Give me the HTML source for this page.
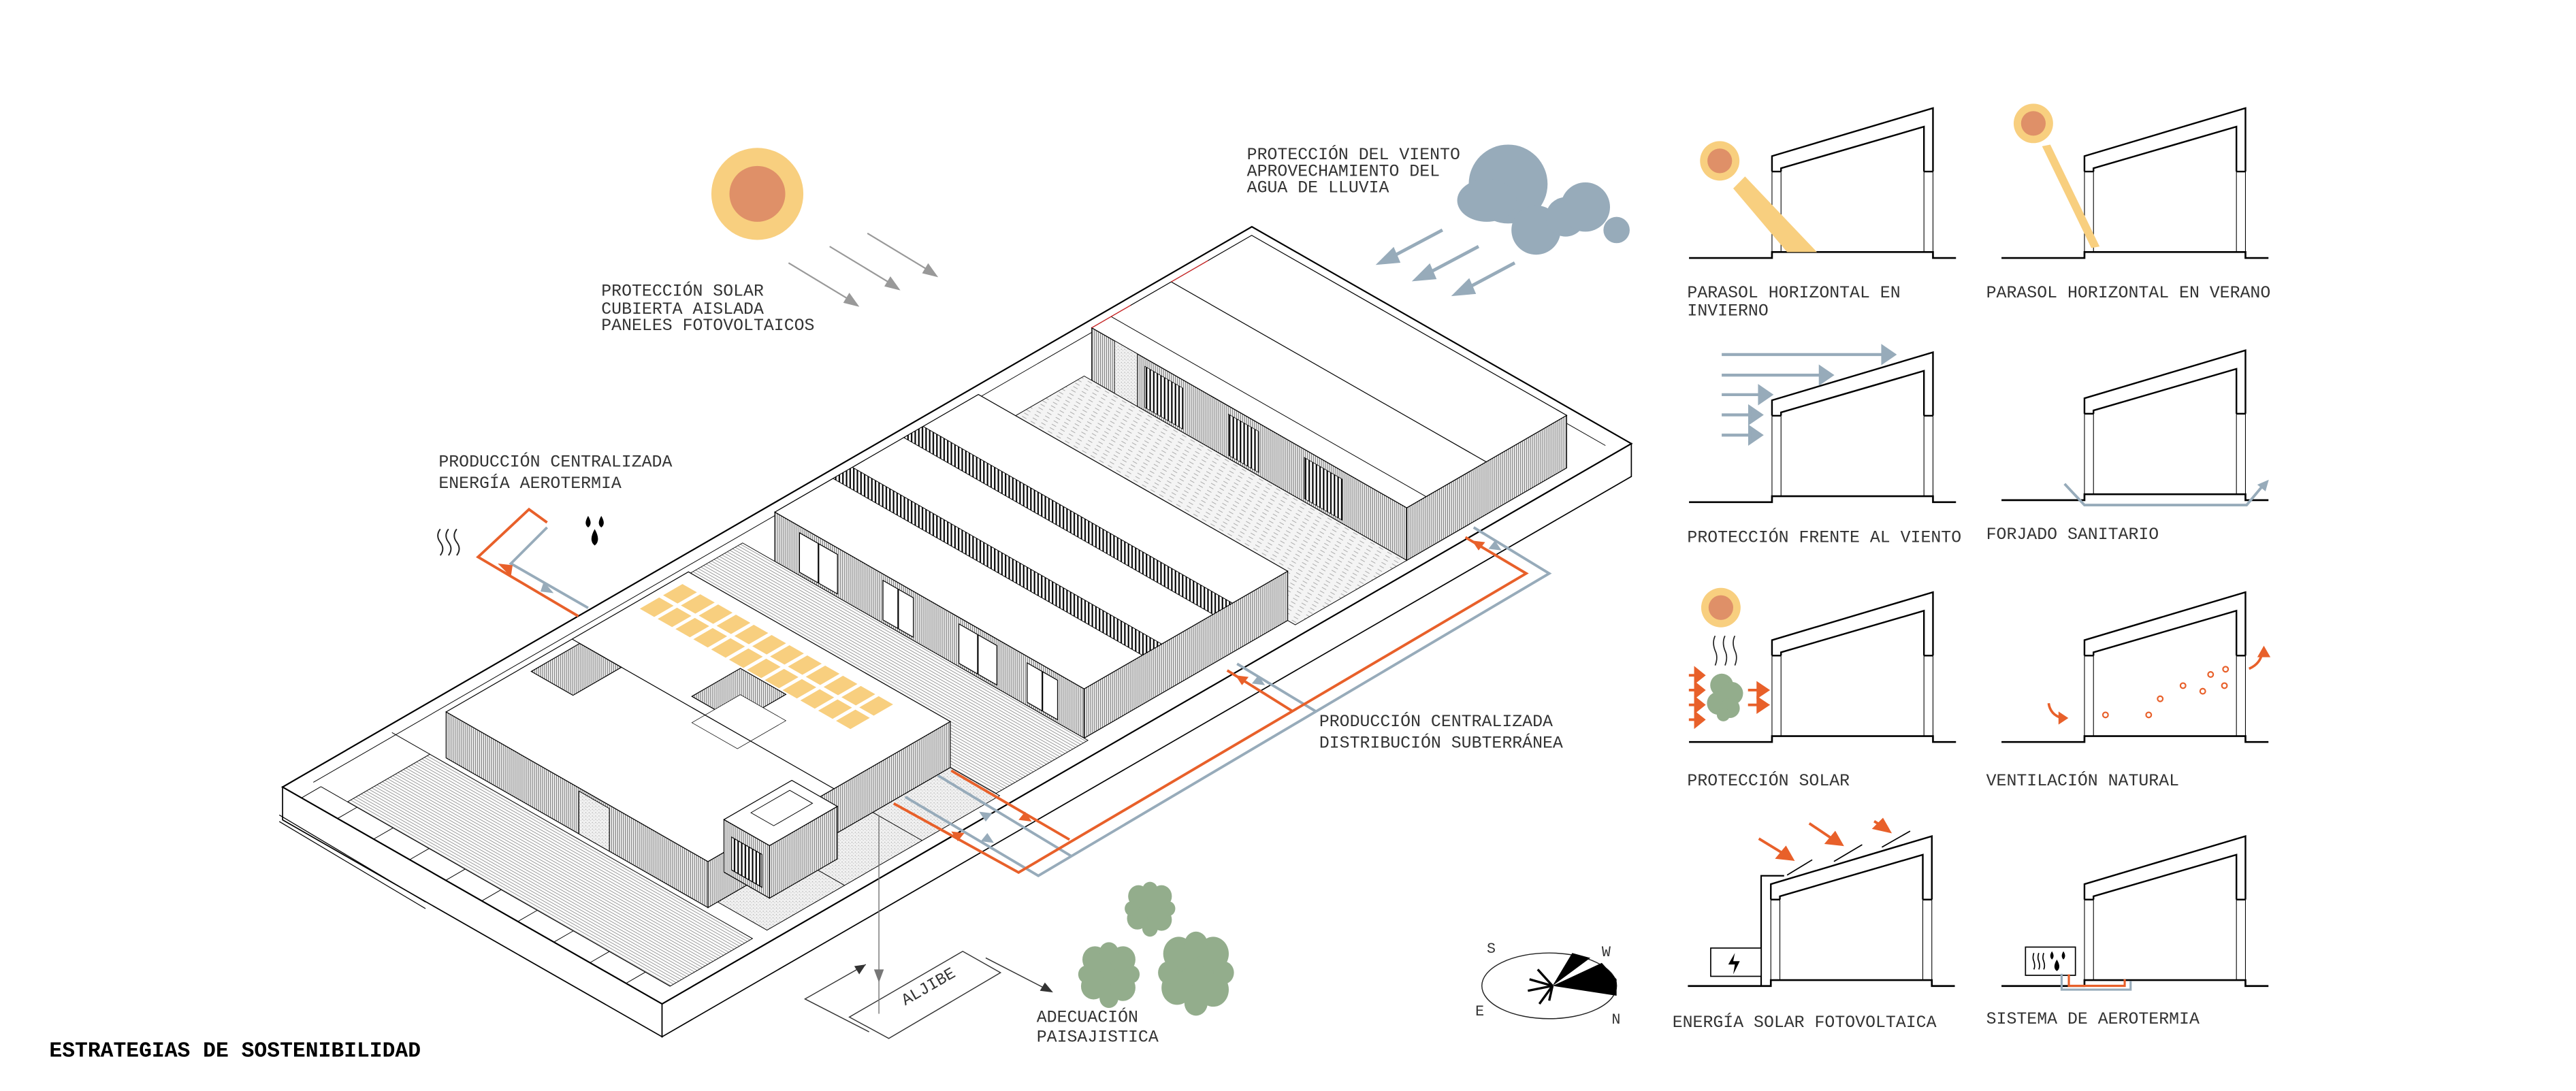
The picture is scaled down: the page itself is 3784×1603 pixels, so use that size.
<!DOCTYPE html>
<html><head><meta charset="utf-8"><style>
html,body{margin:0;padding:0;background:#fff;}
svg{display:block;}
text{font-family:"Liberation Mono","DejaVu Sans Mono",monospace;fill:#333;font-size:10.3px;}
</style></head><body>
<svg id="root" width="3784" height="1603" viewBox="0 0 1568 664" preserveAspectRatio="none" xmlns="http://www.w3.org/2000/svg">
<defs>
<pattern id="wall" patternUnits="userSpaceOnUse" width="1.2" height="10"><rect width="1.2" height="10" fill="#fff"/><line x1="0.3" y1="0" x2="0.3" y2="10" stroke="#666" stroke-width="0.45"/></pattern>
<pattern id="win" patternUnits="userSpaceOnUse" width="2.2" height="10"><rect width="2.2" height="10" fill="#fff"/><line x1="0.5" y1="0" x2="0.5" y2="10" stroke="#000" stroke-width="0.9"/></pattern>
<pattern id="deck" patternUnits="userSpaceOnUse" width="10" height="1.6" patternTransform="rotate(29.7)"><rect width="10" height="1.6" fill="#fff"/><line x1="0" y1="0.4" x2="10" y2="0.4" stroke="#999" stroke-width="0.4"/></pattern>
<pattern id="deck2" patternUnits="userSpaceOnUse" width="6" height="2.4" patternTransform="rotate(29.7)"><rect width="6" height="2.4" fill="#f4f4f4"/><line x1="0" y1="0.6" x2="3" y2="0.6" stroke="#aaa" stroke-width="0.4"/></pattern>
<pattern id="grav" patternUnits="userSpaceOnUse" width="2" height="2"><rect width="2" height="2" fill="#f1f1f1"/><circle cx="0.6" cy="0.6" r="0.3" fill="#aaa"/><circle cx="1.5" cy="1.4" r="0.25" fill="#bbb"/></pattern>
</defs>
<g id="axo"></g>

<circle cx="461" cy="118" r="28" fill="#f8cf7f"/>
<circle cx="461" cy="118" r="17" fill="#df9068"/>
<g stroke="#999" stroke-width="0.9" fill="#999">
<line x1="480" y1="160" x2="518" y2="183"/><polygon points="522,186 514,184 517,179"/>
<line x1="505" y1="150" x2="543" y2="173"/><polygon points="547,176 539,174 542,169"/>
<line x1="528" y1="142" x2="566" y2="165"/><polygon points="570,168 562,166 565,161"/>
</g>
<g fill="#97abba">
<circle cx="918" cy="112" r="24"/><ellipse cx="905" cy="122" rx="18" ry="13"/><circle cx="935" cy="140" r="15"/>
<circle cx="953" cy="132" r="12"/><circle cx="965" cy="126" r="15"/><circle cx="984" cy="140" r="8"/>
</g>
<g stroke="#97abba" stroke-width="2" fill="#97abba">
<line x1="878" y1="140" x2="846" y2="157"/><polygon points="840,160 848,152 851,159"/>
<line x1="900" y1="150" x2="868" y2="167"/><polygon points="862,170 870,162 873,169"/>
<line x1="922" y1="160" x2="892" y2="176"/><polygon points="886,179 894,171 897,178"/>
</g>

<text x="366" y="180">PROTECCIÓN SOLAR</text>
<text x="366" y="191">CUBIERTA AISLADA</text>
<text x="366" y="201">PANELES FOTOVOLTAICOS</text>
<text x="759" y="97">PROTECCIÓN DEL VIENTO</text>
<text x="759" y="107">APROVECHAMIENTO DEL</text>
<text x="759" y="117">AGUA DE LLUVIA</text>
<text x="267" y="284">PRODUCCIÓN CENTRALIZADA</text>
<text x="267" y="297">ENERGÍA AEROTERMIA</text>
<text x="803" y="442">PRODUCCIÓN CENTRALIZADA</text>
<text x="803" y="455">DISTRIBUCIÓN SUBTERRÁNEA</text>
<text x="631" y="622">ADECUACIÓN</text>
<text x="631" y="634">PAISAJISTICA</text>
<text x="30" y="643" style="font-weight:bold;font-size:13px;fill:#000">ESTRATEGIAS DE SOSTENIBILIDAD</text>

<g fill="none" stroke="#222" stroke-width="0.8">
<path d="M268,322 q-3,4 0,8 q3,4 0,8"/><path d="M273,322 q-3,4 0,8 q3,4 0,8"/><path d="M278,322 q-3,4 0,8 q3,4 0,8"/>
</g>
<g fill="#000">
<path d="M358,314 q-3,5 0,7 q3,-2 0,-7z"/><path d="M366,314 q-3,5 0,7 q3,-2 0,-7z"/><path d="M362,322 q-4,7 0,10 q4,-3 0,-10z"/>
</g>
<polyline points="352,375 291,339 322,310 333,318" fill="none" stroke="#e8602a" stroke-width="1.6"/>
<polyline points="358,370 311,343 333,321" fill="none" stroke="#97abba" stroke-width="1.6"/>
<polygon points="311,351 303,343 312,344" fill="#e8602a"/>
<polygon points="331,354 337,361 329,360" fill="#97abba"/>

<g fill="none" stroke-width="1.6">
<polyline points="897,321 943,349 632,533 551,485" stroke="#97abba"/>
<line x1="753" y1="404" x2="801" y2="433" stroke="#97abba"/>
<line x1="571" y1="472" x2="652" y2="521" stroke="#97abba"/>
<polyline points="892,327 929,349 620,531 544,489" stroke="#e8602a"/>
<line x1="747" y1="408" x2="787" y2="433" stroke="#e8602a"/>
<line x1="579" y1="469" x2="651" y2="511" stroke="#e8602a"/>
</g>
<g>
<polygon points="896,329 904,330 900,335" fill="#e8602a"/>
<polygon points="914,335 906,334 910,329" fill="#97abba"/>
<polygon points="752,411 760,412 756,417" fill="#e8602a"/>
<polygon points="770,417 762,416 766,411" fill="#97abba"/>
<polygon points="628,500 620,499 624,494" fill="#e8602a"/>
<polygon points="596,494 604,495 600,500" fill="#97abba"/>
<polygon points="579,506 587,507 583,512" fill="#e8602a"/>
<polygon points="605,513 597,512 601,507" fill="#97abba"/>
</g>

<g stroke="#333" stroke-width="0.6" fill="none">
<path d="M527,587 L490,608 L529,628"/>
<polygon points="517,619 586,579 609,592 541,632" fill="#fff"/>
<line x1="600" y1="583" x2="637" y2="602"/>
<line x1="535" y1="496" x2="535" y2="617" stroke="#777"/>
</g>
<polygon points="527,587 520,588 523,593" fill="#333"/>
<polygon points="641,604 633,603 636,598" fill="#333"/>
<polygon points="532,590 538,590 535,598" fill="#777"/>
<text x="0" y="0" transform="translate(551,612) rotate(-30)" style="font-size:10px">ALJIBE</text>

<g fill="#93ad8c" id="trees"></g>

<ellipse cx="943" cy="600" rx="41" ry="20" fill="none" stroke="#222" stroke-width="0.6"/>
<polygon points="945,600 957,580 968,583" fill="#000"/>
<polygon points="945,600 975,586 984,596 984,606" fill="#000"/>
<g stroke="#000" stroke-width="1.4">
<line x1="945" y1="600" x2="931" y2="596"/><line x1="945" y1="600" x2="930" y2="603"/>
<line x1="945" y1="600" x2="937" y2="611"/><line x1="945" y1="600" x2="943" y2="609"/>
<line x1="945" y1="600" x2="936" y2="590"/>
</g>
<text x="905" y="580" style="font-size:9px">S</text>
<text x="975" y="582" style="font-size:9px">W</text>
<text x="898" y="618" style="font-size:9px">E</text>
<text x="981" y="623" style="font-size:9px">N</text>

<g id="secs"></g>
<polygon points="1055,114.7 1062.2,107.4 1106,153.4 1087.8,153.4" fill="#f8cf7f"/>
<circle cx="1046.8" cy="97.9" r="12" fill="#f8cf7f"/><circle cx="1046.8" cy="97.9" r="7.5" fill="#df9068"/>
<polygon points="1243,89 1248,88 1278,150 1273,151" fill="#f8cf7f"/>
<circle cx="1237.7" cy="75.1" r="12" fill="#f8cf7f"/><circle cx="1237.7" cy="75.1" r="7.5" fill="#df9068"/>
<g stroke="#97abba" stroke-width="1.8" fill="#97abba">
<line x1="1048" y1="215.8" x2="1148" y2="215.8"/><polygon points="1153,215.8 1146,211 1146,220.6"/>
<line x1="1048" y1="228.3" x2="1110" y2="228.3"/><polygon points="1115,228.3 1108,223.5 1108,233.1"/>
<line x1="1048" y1="240.2" x2="1073" y2="240.2"/><polygon points="1078,240.2 1071,235.4 1071,245"/>
<line x1="1048" y1="252.5" x2="1067" y2="252.5"/><polygon points="1072,252.5 1065,247.7 1065,257.3"/>
<line x1="1048" y1="264.8" x2="1067" y2="264.8"/><polygon points="1072,264.8 1065,260 1065,269.6"/>
</g>
<polyline points="1256.7,294.5 1268.8,307.4 1367.5,307.4 1377,296" fill="none" stroke="#97abba" stroke-width="1.6"/>
<polygon points="1381,292 1374,295 1379,299" fill="#97abba"/>
<circle cx="1047.5" cy="369.8" r="12" fill="#f8cf7f"/><circle cx="1047.5" cy="369.8" r="7.5" fill="#df9068"/>
<g fill="none" stroke="#222" stroke-width="0.7">
<path d="M1044,387 q-2,4 0,9 q2,4 0,9"/><path d="M1050,387 q-2,4 0,9 q2,4 0,9"/><path d="M1056,387 q-2,4 0,9 q2,4 0,9"/>
</g>
<g fill="#93ad8c"><circle cx="1048" cy="417" r="7"/><circle cx="1054" cy="422" r="7"/><circle cx="1046" cy="428" r="7"/><circle cx="1053" cy="431" r="6"/><circle cx="1049" cy="435" r="4"/></g>
<g stroke="#e8602a" stroke-width="1.6" fill="#e8602a">
<line x1="1028" y1="411" x2="1033" y2="411"/><polygon points="1037,411 1032,407 1032,415"/>
<line x1="1028" y1="420" x2="1033" y2="420"/><polygon points="1037,420 1032,416 1032,424"/>
<line x1="1028" y1="429" x2="1033" y2="429"/><polygon points="1037,429 1032,425 1032,433"/>
<line x1="1028" y1="438" x2="1033" y2="438"/><polygon points="1037,438 1032,434 1032,442"/>
<line x1="1064" y1="420" x2="1071" y2="420"/><polygon points="1076,420 1070,416 1070,424"/>
<line x1="1064" y1="429" x2="1071" y2="429"/><polygon points="1076,429 1070,425 1070,433"/>
</g>
<g fill="none" stroke="#e8602a" stroke-width="0.9">
<circle cx="1281.6" cy="435.1" r="1.6"/><circle cx="1307.9" cy="435.1" r="1.6"/><circle cx="1314.9" cy="425.3" r="1.6"/><circle cx="1328.8" cy="417.3" r="1.6"/><circle cx="1340.8" cy="420.7" r="1.6"/><circle cx="1345.6" cy="410.5" r="1.6"/><circle cx="1354" cy="417.3" r="1.6"/><circle cx="1354.7" cy="407.3" r="1.6"/>
</g>
<path d="M1247,428 q1,7 8,9" fill="none" stroke="#e8602a" stroke-width="1.5"/><polygon points="1259,437 1253,433 1253,441" fill="#e8602a"/>
<path d="M1369,407 q7,-3 8,-10" fill="none" stroke="#e8602a" stroke-width="1.5"/><polygon points="1378,393 1374,400 1382,400" fill="#e8602a"/>
<g stroke="#000" stroke-width="0.7">
<line x1="1087.8" y1="532.6" x2="1103.1" y2="523.3"/><line x1="1116.3" y1="524.3" x2="1133.5" y2="514.1"/><line x1="1145.5" y1="515.6" x2="1162.7" y2="505.8"/>
</g>
<g stroke="#e8602a" stroke-width="1.6" fill="#e8602a">
<line x1="1070.6" y1="510.4" x2="1086" y2="519.8"/><polygon points="1091,523 1082,522 1087,516"/>
<line x1="1101.3" y1="501.1" x2="1116" y2="511"/><polygon points="1121,514 1112,513 1117,507"/>
<line x1="1140.8" y1="499.8" x2="1146" y2="503"/><polygon points="1150,506 1141,504 1146,499"/>
</g>
<rect x="1041.3" y="577" width="30.7" height="17.2" fill="#fff" stroke="#000" stroke-width="0.7"/>
<polygon points="1056,580 1052,587 1056,587 1055,593 1059,585 1055,585" fill="#000"/>
<rect x="1232.9" y="576.4" width="30.4" height="17.2" fill="#fff" stroke="#000" stroke-width="0.7"/>
<g fill="none" stroke="#000" stroke-width="0.7"><path d="M1238,580 q-1,3 0,5 q1,3 0,5"/><path d="M1241,580 q-1,3 0,5 q1,3 0,5"/><path d="M1244,580 q-1,3 0,5 q1,3 0,5"/></g>
<g fill="#000"><path d="M1249,579 q-2,3 0,5 q2,-2 0,-5z"/><path d="M1256,579 q-2,3 0,5 q2,-2 0,-5z"/><path d="M1252,584 q-3,5 0,7 q3,-2 0,-7z"/></g>
<polyline points="1254.9,592.7 1254.9,602.3 1296.9,602.3 1296.9,597" fill="none" stroke="#97abba" stroke-width="1.3"/>
<polyline points="1259.3,593 1259.3,600 1293.3,600 1293.3,596" fill="none" stroke="#e8602a" stroke-width="1.3"/>

<text x="1027" y="181">PARASOL HORIZONTAL EN</text>
<text x="1027" y="192">INVIERNO</text>
<text x="1209" y="181">PARASOL HORIZONTAL EN VERANO</text>
<text x="1027" y="330">PROTECCIÓN FRENTE AL VIENTO</text>
<text x="1209" y="328">FORJADO SANITARIO</text>
<text x="1027" y="478">PROTECCIÓN SOLAR</text>
<text x="1209" y="478">VENTILACIÓN NATURAL</text>
<text x="1018" y="625">ENERGÍA SOLAR FOTOVOLTAICA</text>
<text x="1209" y="623">SISTEMA DE AEROTERMIA</text>

<script>
(function(){
var NS='http://www.w3.org/2000/svg';
var g=document.getElementById('axo');
function el(par,tag,at){var e=document.createElementNS(NS,tag);for(var k in at)e.setAttribute(k,at[k]);par.appendChild(e);return e;}
function P(a,b,h){h=h||0;return [172+590*a+231*b,479-341*a+132*b-h];}
function pts(arr){return arr.map(function(p){return p[0].toFixed(2)+','+p[1].toFixed(2);}).join(' ');}
function pg(arr,fill,sw,stroke){return el(g,'polygon',{points:pts(arr),fill:fill,stroke:stroke||'#000','stroke-width':sw==null?0.5:sw});}
function ln(p,q,sw,c){return el(g,'line',{x1:p[0],y1:p[1],x2:q[0],y2:q[1],stroke:c||'#000','stroke-width':sw||0.5});}
function quad(a0,a1,b0,b1,h,fill,sw){return pg([P(a0,b0,h),P(a1,b0,h),P(a1,b1,h),P(a0,b1,h)],fill,sw);}
function fA(a,b0,b1,h0,h1,fill,sw){return pg([P(a,b0,h0),P(a,b1,h0),P(a,b1,h1),P(a,b0,h1)],fill,sw);}
function fB(b,a0,a1,h0,h1,fill,sw){return pg([P(a0,b,h0),P(a1,b,h0),P(a1,b,h1),P(a0,b,h1)],fill,sw);}
function box(a0,a1,b0,b1,h,wall,top){fA(a0,b0,b1,0,h,wall);fB(b1,a0,a1,0,h,wall);quad(a0,a1,b0,b1,h,top||'#fff');}

pg([P(0,0,0),P(0,1,0),P(0,1,-20),P(0,0,-20)],'#fff',0.7);
pg([P(0,1,0),P(1,1,0),P(1,1,-20),P(0,1,-20)],'#fff',0.7);
quad(0,1,0,1,0,'#fff',0.9);
ln([170,496],[259,549],0.5);ln([170,500],[259,553],0.5);
ln(P(0.02,0.03,0),P(0.985,0.03,0),0.4);ln(P(0.985,0.03,0),P(0.985,0.97,0),0.4);

// Building A
box(0.78,0.945,0.14,0.97,32,'url(#wall)');
ln(P(0.862,0.14,32),P(0.862,0.97,32),0.5);
ln(P(0.80,0.14,32),P(0.80,0.97,32),0.4);
[[0.28,0.38],[0.50,0.58],[0.70,0.80]].forEach(function(r){fA(0.78,r[0],r[1],2,27,'url(#win)',0.3);});
fA(0.78,0.2,0.26,0,32,'url(#grav)',0.3);
ln(P(0.78,0.14,32),P(0.82,0.14,32),0.5,'#d22');ln(P(0.862,0.14,32),P(0.9,0.14,32),0.5,'#d22');
// deck A-B
quad(0.665,0.78,0.12,0.97,0,'url(#deck2)',0.4);
// Building B: three bars
box(0.455,0.665,0.135,0.95,30,'url(#wall)');
[[0.515,0.535],[0.588,0.608]].forEach(function(r){quad(r[0],r[1],0.135,0.95,30,'url(#win)',0.4);});
[[0.2,0.3],[0.42,0.5],[0.62,0.72],[0.8,0.88]].forEach(function(r){fA(0.455,r[0],r[1],2,26,'#fff',0.5);ln(P(0.455,(r[0]+r[1])/2,2),P(0.455,(r[0]+r[1])/2,26),0.9);});
// deck C-B
quad(0.36,0.455,0.05,0.96,0,'url(#deck)',0.4);
quad(0.12,0.36,0.84,0.97,0,'url(#grav)',0.4);
ln(P(0.2,0.84,0),P(0.2,0.97,0),0.4);ln(P(0.28,0.84,0),P(0.28,0.97,0),0.4);
// Building C
box(0.11,0.36,0.15,0.84,28,'url(#wall)');
fA(0.11,0.5,0.58,0,26,'url(#grav)',0.4);
quad(0.19,0.24,0.17,0.28,28,'url(#wall)',0.5);
quad(0.25,0.30,0.44,0.56,28,'url(#wall)',0.5);
quad(0.25,0.30,0.44,0.56,12,'#fff',0.3);
ln(P(0.24,0.15,28),P(0.24,0.84,28),0.5);
for(var i=0;i<12;i++){var b0=0.17+i*0.047;
 quad(0.302,0.322,b0,b0+0.038,28,'#f8cf7f',0);quad(0.326,0.346,b0,b0+0.038,28,'#f8cf7f',0);}
box(0.15,0.22,0.78,0.9,32,'url(#wall)');
fA(0.15,0.8,0.88,4,24,'url(#win)',0.5);
quad(0.17,0.21,0.8,0.86,32,'#fff',0.4);
quad(0.02,0.105,0.12,0.97,0,'url(#deck)',0.4);
for(var k=0;k<10;k++){var bb=0.05+k*0.095;ln(P(0.0,bb,0),P(0.02,bb,0),0.4);}
ln(P(0.02,0.05,0),P(0.02,0.97,0),0.4);
ln(P(0.105,0.02,0),P(0.105,0.12,0),0.4);

var t=document.getElementById('trees');
function tree(cx,cy,rx,ry){var offs=[[0,0,1],[-0.5,-0.5,0.6],[0.5,-0.5,0.6],[-0.55,0.4,0.6],[0.5,0.45,0.6],[0,-0.75,0.45],[0,0.8,0.45],[-0.8,0,0.4],[0.8,0,0.4]];
 offs.forEach(function(o){el(t,'ellipse',{cx:cx+o[0]*rx,cy:cy+o[1]*ry,rx:rx*o[2]*0.75,ry:ry*o[2]*0.75});});}
tree(700,553,14,15);tree(675,593,17,18);tree(728,592,21,23);

var s=document.getElementById('secs');
function L(d,w){el(s,'path',{d:d,fill:'none',stroke:'#000','stroke-width':w,'stroke-linejoin':'miter'});}
function sec(x,y){
 L('M'+(x-50.5)+','+y+' H'+x+' V'+(y-3.6)+' H'+(x+98)+' V'+y+' H'+(x+112),1.1);
 L('M'+x+','+(y-52.6)+' V'+(y-62)+' L'+(x+98)+','+(y-91.2)+' V'+(y-52.6),1);
 L('M'+(x+5.5)+','+(y-52.6)+' V'+(y-54.6)+' L'+(x+92.5)+','+(y-79.9)+' V'+(y-52.6),1);
 L('M'+x+','+(y-52.6)+' H'+(x+5.5)+' M'+(x+92.5)+','+(y-52.6)+' H'+(x+98),1);
 L('M'+x+','+(y-52.6)+' V'+(y-3.6)+' M'+(x+5.5)+','+(y-52.6)+' V'+(y-3.6)+' M'+(x+92.5)+','+(y-52.6)+' V'+(y-3.6)+' M'+(x+98)+','+(y-52.6)+' V'+(y-3.6),0.45);
}
sec(1078.6,157);sec(1268.8,157);sec(1078.6,305.6);sec(1268.8,304.4);
sec(1078.6,451.6);sec(1268.8,451.6);sec(1077.9,600.1);sec(1268.8,600.1);
L('M1072,600 V533 H1086',0.9);
})();
</script>
</svg>
</body></html>
